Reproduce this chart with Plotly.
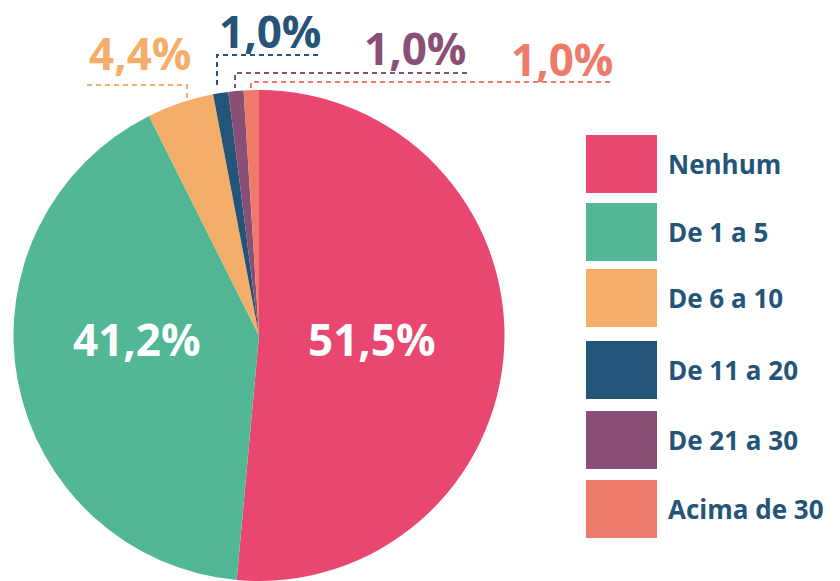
import plotly.graph_objects as go

categories = ["Nenhum", "De 1 a 5", "De 6 a 10", "De 11 a 20", "De 21 a 30", "Acima de 30"]
values = [51.5, 41.2, 4.4, 1.0, 1.0, 1.0]
colors = ["#E8476F", "#52B794", "#F5AE6A", "#245478", "#8A4F75", "#EE7A6A"]

W, H = 840, 581
FONT = "Open Sans"
LEG_COLOR = "#245478"


def px(x):
    return x / W


def py(y):
    return 1 - y / H


def fmt(v):
    return f"{v:.1f}".replace(".", ",") + "%"


fig = go.Figure()
fig.add_trace(go.Pie(
    labels=categories,
    values=values,
    marker=dict(colors=colors, line=dict(width=0)),
    sort=False,
    direction="clockwise",
    rotation=0,
    textinfo="none",
    hoverinfo="skip",
    showlegend=False,
    domain=dict(x=[13 / W, 505 / W], y=[0, 1 - 90 / H]),
))

annotations = []
shapes = []

# label placement (pixel centers) and text colours
label_pos = [(372, 339), (137, 339), (140, 53), (270, 31), (415, 48), (562, 59)]
label_col = ["white", "white", colors[2], colors[3], colors[4], colors[5]]
for v, (x, y), c in zip(values, label_pos, label_col):
    annotations.append(dict(
        x=px(x), y=py(y), xref="paper", yref="paper",
        text=fmt(v), showarrow=False, xanchor="center", yanchor="middle",
        font=dict(family=FONT, size=44, color=c, weight="bold"),
    ))

# dashed leader lines for small slices
leaders = [
    (2, [(87, 85), (187, 85), (187, 101)]),
    (3, [(318, 55), (217, 55), (217, 89)]),
    (4, [(467, 73), (235, 73), (235, 88)]),
    (5, [(610, 82), (251, 82), (251, 89)]),
]
for idx, pts in leaders:
    path = "M " + " L ".join(f"{px(x)},{py(y)}" for x, y in pts)
    shapes.append(dict(
        type="path", path=path, xref="paper", yref="paper",
        line=dict(color=colors[idx], width=2, dash="5px,4px"),
    ))

# custom legend
leg_top = [135, 203, 269, 341, 411, 480]
for cat, col, t in zip(categories, colors, leg_top):
    shapes.append(dict(
        type="rect", xref="paper", yref="paper",
        x0=px(586), x1=px(657), y0=py(t), y1=py(t + 58),
        fillcolor=col, line=dict(width=0),
    ))
    annotations.append(dict(
        x=px(666), y=py(t + 29), xref="paper", yref="paper",
        text=cat, showarrow=False, xanchor="left", yanchor="middle",
        font=dict(family=FONT, size=26, color=LEG_COLOR, weight="bold"),
    ))

fig.update_layout(
    width=W, height=H,
    margin=dict(l=0, r=0, t=0, b=0),
    paper_bgcolor="white", plot_bgcolor="white",
    separators=",.",
    annotations=annotations,
    shapes=shapes,
)

fig.write_html(
    "out.html",
    config={"displayModeBar": False},
    post_script="document.body.style.margin='0';document.body.style.overflow='hidden';",
)
